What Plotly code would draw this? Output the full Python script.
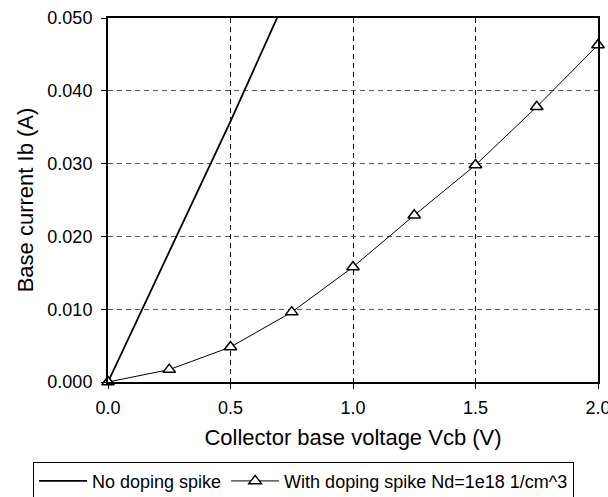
import plotly.graph_objects as go

# Collector-base voltage sweep (V)
vcb = [0.0, 0.25, 0.5, 0.75, 1.0, 1.25, 1.5, 1.75, 2.0]

# Base current without a doping spike (A)
vcb_plain = [0.0, 0.25, 0.5, 0.75]
ib_plain = [0.0, 0.0180, 0.0358, 0.0545]

# Base current with a doping spike Nd=1e18 1/cm^3 (A)
ib_spike = [0.0, 0.0017, 0.0048, 0.0096, 0.0158, 0.0229, 0.0298, 0.0378, 0.0463]

x_ticks = [0.0, 0.5, 1.0, 1.5, 2.0]
y_ticks = [0.0, 0.01, 0.02, 0.03, 0.04, 0.05]

FONT = "Liberation Sans"

fig = go.Figure()
fig.add_trace(go.Scatter(
    x=vcb_plain, y=ib_plain, mode="lines", name="No doping spike",
    line=dict(color="black", width=1.8),
))
fig.add_trace(go.Scatter(
    x=vcb, y=ib_spike, mode="lines+markers",
    name="With doping spike Nd=1e18 1/cm^3",
    line=dict(color="black", width=1),
    marker=dict(symbol="triangle-up", size=11, color="white",
                line=dict(color="black", width=1.5)),
    cliponaxis=False,
))

fig.update_layout(
    width=608, height=497,
    margin=dict(l=108, r=10, t=18, b=115, autoexpand=False),
    paper_bgcolor="white", plot_bgcolor="white",
    font=dict(family=FONT, size=18, color="black"),
    showlegend=True,
    legend=dict(
        orientation="h", x=-0.153, y=-0.219, xanchor="left", yanchor="top",
        bordercolor="black", borderwidth=1, font=dict(size=18),
        itemwidth=48, tracegroupgap=0,
    ),
    xaxis=dict(
        range=[0, 2.0], tickvals=x_ticks, tickformat=".1f",
        ticklabeloverflow="allow", ticklabelstandoff=3,
        showline=True, linecolor="black", linewidth=2, mirror=True,
        ticks="outside", ticklen=5, tickcolor="black",
        showgrid=True, gridcolor="black", gridwidth=1, griddash="5px,4px",
        zeroline=False,
        title=dict(text="Collector base voltage Vcb (V)", standoff=13),
    ),
    yaxis=dict(
        range=[0, 0.05], tickvals=y_ticks, tickformat=".3f",
        ticklabelstandoff=5,
        showline=True, linecolor="black", linewidth=2, mirror=True,
        ticks="outside", ticklen=5, tickcolor="black",
        showgrid=True, gridcolor="#555555", gridwidth=1, griddash="5px,4px",
        zeroline=False,
        title=dict(text="Base current Ib (A)", standoff=8),
    ),
)

fig.write_html("out.html")
